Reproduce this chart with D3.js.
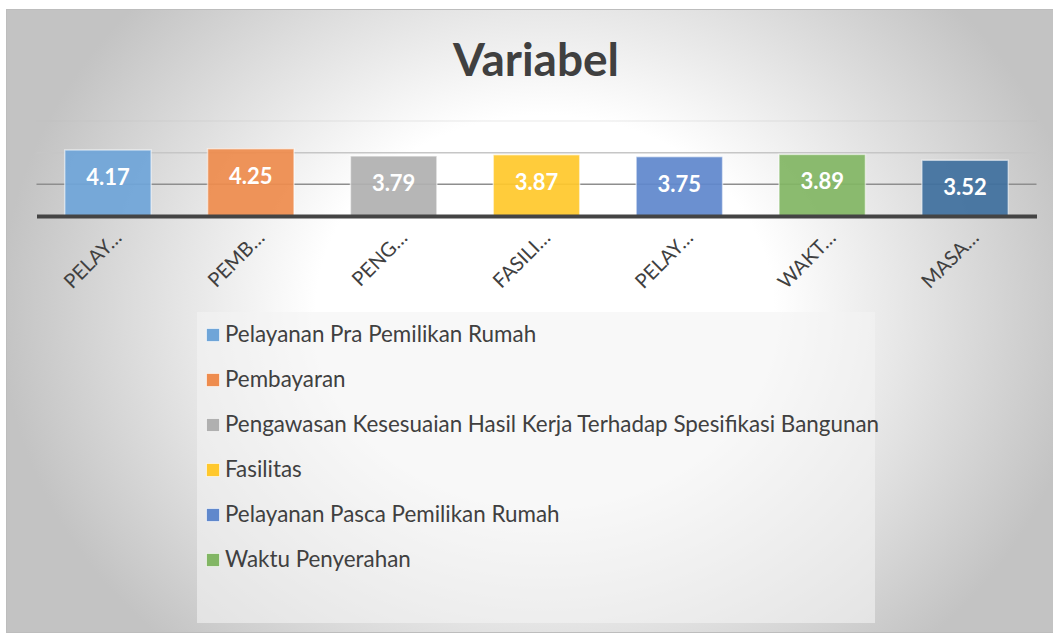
<!DOCTYPE html>
<html lang="en">
<head>
    <meta charset="UTF-8">
    <title>Variabel</title>
    <script src="https://d3js.org/d3.v7.min.js"></script>
    <style>
        body {
            margin: 0;
            background: #fff;
        }
        svg text {
            font-family: 'Lato', 'Open Sans', sans-serif;
        }
        .title {
            font-size: 46px;
            font-weight: bold;
            fill: #404040;
        }
        .value-label {
            font-size: 22px;
            font-weight: bold;
            fill: #fff;
        }
        .tick-label {
            font-size: 20px;
            fill: #404040;
        }
        .legend-label {
            font-size: 22.4px;
            fill: #404040;
        }
    </style>
</head>
<body>
<svg width="1053" height="634"></svg>
<script>
    // values
    const tickLabels = ["PELAY…", "PEMB…", "PENG…", "FASILI…", "PELAY…", "WAKT…", "MASA…"];
    const values = [4.17, 4.25, 3.79, 3.87, 3.75, 3.89, 3.52];
    const barColors = ["#6FA5D8", "#EE8C4E", "#B0B0B0", "#FFC82C", "#6088CC", "#82B664", "#3F709E"];
    const legendNames = [
        "Pelayanan Pra Pemilikan Rumah",
        "Pembayaran",
        "Pengawasan Kesesuaian Hasil Kerja Terhadap Spesifikasi Bangunan",
        "Fasilitas",
        "Pelayanan Pasca Pemilikan Rumah",
        "Waktu Penyerahan"
    ];
    const gridValues = [2, 4, 6];

    const svg = d3.select("svg");

    // background with radial fade
    const defs = svg.append("defs");
    const bg = defs.append("radialGradient")
        .attr("id", "bg")
        .attr("gradientUnits", "userSpaceOnUse")
        .attr("cx", 545).attr("cy", 310).attr("r", 545)
        .attr("gradientTransform", "translate(545,310) scale(1,0.85) translate(-545,-310)");
    bg.append("stop").attr("offset", "0%").attr("stop-color", "#ffffff");
    bg.append("stop").attr("offset", "42%").attr("stop-color", "#ffffff");
    bg.append("stop").attr("offset", "100%").attr("stop-color", "#c3c3c3");

    svg.append("rect")
        .attr("x", 6.5).attr("y", 9.5)
        .attr("width", 1050).attr("height", 623)
        .attr("fill", "url(#bg)")
        .attr("stroke", "#bdbdbd");

    svg.append("text")
        .attr("class", "title")
        .attr("x", 536).attr("y", 76)
        .attr("text-anchor", "middle")
        .text("Variabel");

    const margin = {left: 36.5, right: 1036.5};
    const x = d3.scaleBand()
        .domain(d3.range(values.length))
        .range([margin.left, margin.right])
        .paddingInner(0.395)
        .paddingOuter(0.1975);
    const y = d3.scaleLinear().domain([0, 6]).range([216, 121]);

    const gridColor = d3.scaleOrdinal().domain(gridValues).range(["#8e8e8e", "#c6c6c6", "rgba(190,190,190,0.22)"]);

    svg.append("g")
        .selectAll("line")
        .data(gridValues)
        .join("line")
        .attr("x1", margin.left).attr("x2", margin.right)
        .attr("y1", d => y(d)).attr("y2", d => y(d))
        .attr("stroke", d => gridColor(d))
        .attr("stroke-width", 1.5);

    svg.append("g")
        .selectAll("rect")
        .data(values)
        .join("rect")
        .attr("x", (d, i) => x(i))
        .attr("y", d => y(d))
        .attr("width", x.bandwidth())
        .attr("height", d => y(0) - y(d))
        .attr("fill", (d, i) => barColors[i])
        .attr("fill-opacity", 0.93)
        .attr("stroke", "rgba(255,255,255,0.55)")
        .attr("stroke-width", 1.5);

    svg.append("g")
        .selectAll("text")
        .data(values)
        .join("text")
        .attr("class", "value-label")
        .attr("x", (d, i) => x(i) + x.bandwidth() / 2)
        .attr("y", d => y(d) + 35)
        .attr("text-anchor", "middle")
        .text(d => d.toFixed(2));

    // category axis
    const xAxis = svg.append("g")
        .attr("transform", "translate(0," + y(0) + ")")
        .call(d3.axisBottom(x).tickSize(0).tickFormat(i => tickLabels[i]));
    xAxis.select(".domain")
        .attr("stroke", "#444")
        .attr("stroke-width", 4);
    xAxis.selectAll("text")
        .attr("class", "tick-label")
        .attr("font-size", null)
        .attr("font-family", null)
        .attr("fill", null)
        .attr("text-anchor", "end")
        .attr("dy", null)
        .attr("y", 0)
        .attr("transform", "translate(15,23) rotate(-45)");

    // legend
    const legendBox = {x: 197, y: 312, w: 678, h: 311};
    svg.append("rect")
        .attr("x", legendBox.x).attr("y", legendBox.y)
        .attr("width", legendBox.w).attr("height", legendBox.h)
        .attr("fill", "rgba(243,243,243,0.6)");

    const legend = svg.append("g")
        .selectAll("g")
        .data(legendNames)
        .join("g")
        .attr("transform", (d, i) => "translate(206," + (342 + i * 45) + ")");
    legend.append("rect")
        .attr("x", 0.5).attr("y", -13.5)
        .attr("width", 13).attr("height", 13)
        .attr("fill", (d, i) => barColors[i])
        .attr("stroke", "rgba(255,255,255,0.6)");
    legend.append("text")
        .attr("class", "legend-label")
        .attr("x", 19)
        .text(d => d);
</script>
</body>
</html>
